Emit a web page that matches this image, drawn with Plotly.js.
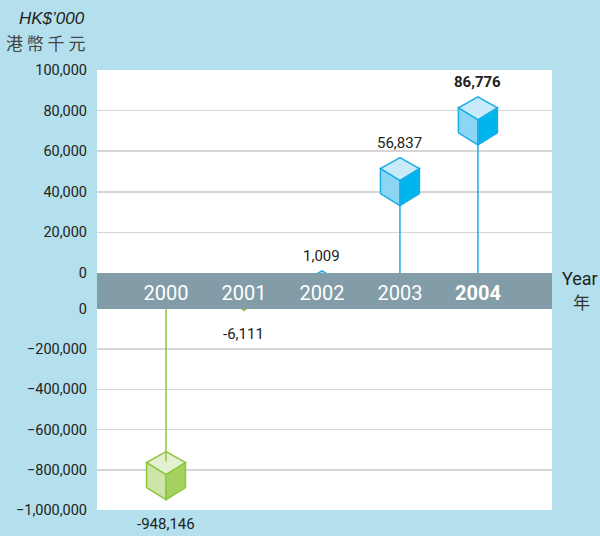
<!DOCTYPE html>
<html>
<head>
<meta charset="utf-8">
<script src="https://cdn.plot.ly/plotly-3.0.1.min.js"></script>
<style>
html,body{margin:0;padding:0;background:#b3e0ec;}
#chart{width:600px;height:536px;}
</style>
</head>
<body>
<div id="chart"></div>
<script>
// ---- data ----
var years = ['2000', '2001', '2002', '2003', '2004'];
var values = [-948146, -6111, 1009, 56837, 86776];
var valueLabels = ['-948,146', '-6,111', '1,009', '56,837', '<b>86,776</b>'];
var yearLabels = ['2000', '2001', '2002', '2003', '<b>2004</b>'];
var topTicks = [0, 20000, 40000, 60000, 80000, 100000];
var bottomTicks = [-1000000, -800000, -600000, -400000, -200000, 0];

var FONT = '"Roboto", "Liberation Sans", Arial, sans-serif';
var BLUE = {line: '#1aaee5', top: '#c8eaf9', left: '#8cd5f4', right: '#00b5ec'};
var GREEN = {line: '#8cc63f', top: '#e3f0d2', left: '#cde5a8', right: '#a5d160'};

var xs = years.map(function (y, i) { return i; });
var traces = [];
var shapes = [];
var annotations = [];

// band between the two panels
shapes.push({type: 'rect', xref: 'paper', yref: 'paper', x0: 0, x1: 1, y0: 0.4568, y1: 0.5386,
  fillcolor: '#829ca8', line: {width: 0}, layer: 'below'});

values.forEach(function (v, i) {
  var pos = v >= 0;
  var col = pos ? BLUE : GREEN;
  var ya = pos ? 'y' : 'y2';
  traces.push({
    type: 'scatter', mode: 'lines', x: [xs[i], xs[i]], y: [0, v],
    xaxis: 'x', yaxis: ya, line: {color: col.line, width: 1.5},
    hoverinfo: 'skip', showlegend: false
  });
  var T = pos ? 0 : 48; // top vertex offset (pixels, upward) from value
  function f(n) { return n.toFixed(1); }
  var W = 19.5;
  var faces = [
    ['M0,' + f(T) + ' L' + (-W) + ',' + f(T - 11) + ' L0,' + f(T - 23) + ' L' + W + ',' + f(T - 11) + ' Z', col.top],
    ['M' + (-W) + ',' + f(T - 11) + ' L0,' + f(T - 23) + ' L0,' + f(T - 48) + ' L' + (-W) + ',' + f(T - 36) + ' Z', col.left],
    ['M' + W + ',' + f(T - 11) + ' L0,' + f(T - 23) + ' L0,' + f(T - 48) + ' L' + W + ',' + f(T - 36) + ' Z', col.right]
  ];
  faces.forEach(function (fc) {
    shapes.push({type: 'path', xref: 'x', yref: ya, xsizemode: 'pixel', ysizemode: 'pixel',
      xanchor: xs[i], yanchor: v, path: fc[0], fillcolor: fc[1],
      line: {color: col.line, width: 1.5}, layer: 'above'});
  });
  if (!pos) {
    shapes.push({type: 'path', xref: 'x', yref: ya, xsizemode: 'pixel', ysizemode: 'pixel',
      xanchor: xs[i], yanchor: v, path: 'M0,' + f(T) + ' L0,' + f(T - 10),
      line: {color: col.line, width: 1.5}, layer: 'above'});
  }
  annotations.push({
    x: xs[i], y: v, xref: 'x', yref: ya, text: valueLabels[i], showarrow: false,
    yshift: pos ? 15 : -24, font: {family: FONT, size: 15, color: '#222'}
  });
});

annotations.push({xref: 'paper', yref: 'paper', x: -0.022, y: 1, xanchor: 'right', yanchor: 'bottom',
  yshift: 40, text: '<i>HK$’000</i>', showarrow: false,
  font: {family: '"Liberation Sans", Arial, sans-serif', size: 17, color: '#222'}});
annotations.push({xref: 'paper', yref: 'paper', x: -0.022, y: 1, xanchor: 'right', yanchor: 'bottom',
  yshift: 13, text: '港 幣 千 元', showarrow: false,
  font: {family: '"Noto Sans CJK TC", sans-serif', size: 17, color: '#444'}});
annotations.push({xref: 'paper', yref: 'paper', x: 1.0, y: 0.5386, xanchor: 'right', yanchor: 'middle',
  xshift: 48, yshift: -5, text: 'Year', showarrow: false,
  font: {family: FONT, size: 18, color: '#222'}});
annotations.push({xref: 'paper', yref: 'paper', x: 1.0, y: 0.5386, xanchor: 'left', yanchor: 'middle',
  xshift: 19, yshift: -28, text: '年', showarrow: false,
  font: {family: '"Noto Sans CJK TC", sans-serif', size: 17, color: '#333'}});

var layout = {
  width: 600, height: 536,
  margin: {l: 97, r: 48, t: 70, b: 26},
  paper_bgcolor: '#b3e0ec', plot_bgcolor: '#ffffff',
  showlegend: false,
  xaxis: {
    range: [-0.885, 4.95], anchor: 'y', tickvals: xs, ticktext: yearLabels,
    showgrid: false, zeroline: false, showline: false, ticks: '',
    ticklabelstandoff: 6,
    tickfont: {family: FONT, size: 20, color: '#ffffff'}, fixedrange: true
  },
  yaxis: {
    domain: [0.5386, 1], range: [0, 100000], tickvals: topTicks, tickformat: ',d',
    showgrid: true, gridcolor: '#d6d6d6', gridwidth: 1.5, zeroline: false, showline: false,
    ticks: '', ticklabelstandoff: 9,
    tickfont: {family: FONT, size: 14.5, color: '#222'}, fixedrange: true
  },
  yaxis2: {
    domain: [0, 0.4568], range: [-1000000, 0], tickvals: bottomTicks, tickformat: ',d',
    anchor: 'x',
    showgrid: true, gridcolor: '#d6d6d6', gridwidth: 1.5, zeroline: false, showline: false,
    ticks: '', ticklabelstandoff: 9,
    tickfont: {family: FONT, size: 14.5, color: '#222'}, fixedrange: true
  },
  shapes: shapes,
  annotations: annotations
};

Plotly.newPlot('chart', traces, layout, {displayModeBar: false, staticPlot: true});
</script>
</body>
</html>
